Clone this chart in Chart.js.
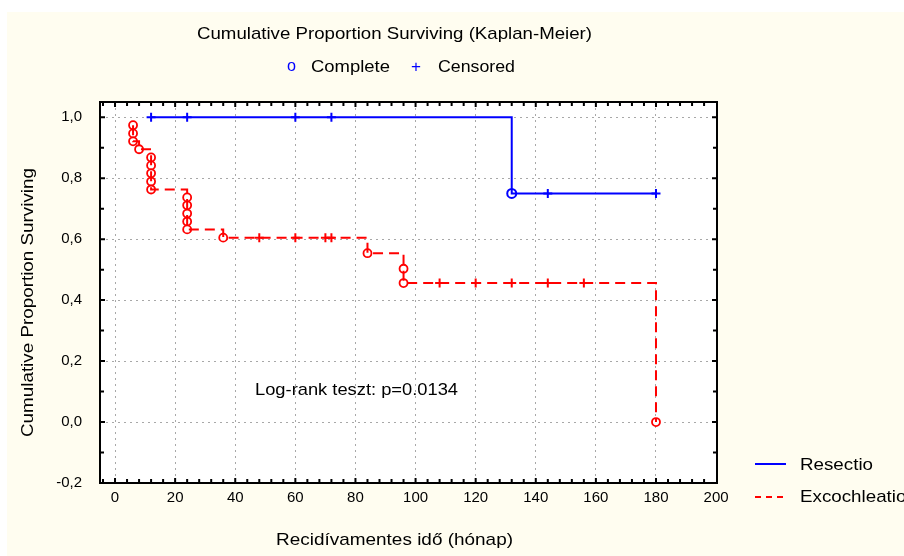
<!DOCTYPE html>
<html><head><meta charset="utf-8">
<script src="https://cdn.jsdelivr.net/npm/chart.js@4.4.1/dist/chart.umd.min.js"></script>
<style>html,body{margin:0;padding:0;background:#fff}canvas{display:block}</style>
</head><body>
<div style="width:904px;height:556px"><canvas id="c" width="904" height="556"></canvas></div>
<script>
// ---- data ----
const chartTitle = 'Cumulative Proportion Surviving (Kaplan-Meier)';
const xAxisTitle = 'Recidívamentes idő (hónap)';
const yAxisTitle = 'Cumulative Proportion Surviving';
const seriesNames = ['Resectio', 'Excochleation'];
const markerNames = ['Complete', 'Censored'];
const annotationText = 'Log-rank teszt: p=0.0134';

const resectioCompleteX = [132];
const resectioCompleteY = [0.75];
const resectioCensoredX = [12, 24, 60, 72, 144, 180];
const resectioCensoredY = [1.0, 1.0, 1.0, 1.0, 0.75, 0.75];

const excoCompleteX = [6, 6, 6, 8, 12, 12, 12, 12, 12, 24, 24, 24, 24, 24, 36, 84, 96, 96, 180];
const excoCompleteY = [0.974, 0.947, 0.921, 0.895, 0.868, 0.842, 0.816, 0.789, 0.763, 0.737, 0.711, 0.684, 0.658, 0.632, 0.605, 0.554, 0.503, 0.456, 0.0];
const excoCensoredX = [48, 60, 70, 72, 108, 120, 132, 144, 156];
const excoCensoredY = [0.605, 0.605, 0.605, 0.605, 0.456, 0.456, 0.456, 0.456, 0.456];

// ---- helpers ----
const pts = (xs, ys) => xs.map((x, i) => ({x: x, y: ys[i]}));
function kmLine(cx, cy, sx, sy) {
  const all = pts(cx, cy).concat(pts(sx, sy));
  all.sort((a, b) => a.x - b.x || b.y - a.y);
  return all;
}
const BLUE = '#0000ff', RED = '#ff0000';
const FONT = '"Liberation Sans", Arial, sans-serif';

// draw text starting at `left`, horizontally stretched to `width`
function fitText(ctx, str, left, y, width) {
  const w = ctx.measureText(str).width;
  ctx.save();
  ctx.translate(left, y);
  ctx.scale(width / w, 1);
  ctx.textAlign = 'left';
  ctx.fillText(str, 0, 0);
  ctx.restore();
}

const bgPlugin = {
  id: 'bg',
  beforeDraw(chart) {
    const ctx = chart.ctx, a = chart.chartArea;
    ctx.save();
    ctx.fillStyle = '#ffffff';
    ctx.fillRect(0, 0, chart.width, chart.height);
    ctx.fillStyle = '#fffdf0';
    ctx.fillRect(7, 12, chart.width - 7, chart.height - 12);
    ctx.fillStyle = '#ffffff';
    ctx.fillRect(a.left, a.top, a.right - a.left, a.bottom - a.top);
    ctx.restore();
  },
  afterDraw(chart) {
    const ctx = chart.ctx, a = chart.chartArea;
    const xs = chart.scales.x, ys = chart.scales.y;
    ctx.save();
    // frame
    ctx.strokeStyle = '#000';
    ctx.lineWidth = 2;
    ctx.strokeRect(a.left, a.top, a.right - a.left, a.bottom - a.top);
    // inward ticks
    ctx.beginPath();
    for (let v = Math.ceil(xs.min / 4) * 4; v <= xs.max + 1e-9; v += 4) {
      const p = xs.getPixelForValue(v);
      if (p <= a.left + 1 || p >= a.right - 1) continue;
      const len = (v % 20 === 0) ? 5 : 4;
      ctx.moveTo(p, a.bottom); ctx.lineTo(p, a.bottom - len);
      ctx.moveTo(p, a.top); ctx.lineTo(p, a.top + len);
    }
    for (let k = Math.ceil(ys.min * 10 - 1e-9); k <= Math.floor(ys.max * 10 + 1e-9); k++) {
      const p = ys.getPixelForValue(k / 10);
      if (p >= a.bottom - 1 || p <= a.top + 1) continue;
      const len = (k % 2 === 0) ? 5 : 4;
      ctx.moveTo(a.left, p); ctx.lineTo(a.left + len, p);
      ctx.moveTo(a.right, p); ctx.lineTo(a.right - len, p);
    }
    ctx.stroke();

    // texts
    ctx.fillStyle = '#000';
    ctx.textBaseline = 'middle';
    ctx.font = '17px ' + FONT;
    fitText(ctx, chartTitle, 197, 34, 395);
    // marker legend
    ctx.fillStyle = BLUE;
    fitText(ctx, 'o', 287, 66, 9);
    fitText(ctx, '+', 411, 67, 10);
    ctx.fillStyle = '#000';
    fitText(ctx, markerNames[0], 311, 67, 79);
    fitText(ctx, markerNames[1], 438, 67, 77);
    // annotation
    fitText(ctx, annotationText, 255, 390, 203);
    // axis titles
    fitText(ctx, xAxisTitle, 276, 540, 237);
    ctx.save();
    ctx.translate(28, 437);
    ctx.rotate(-Math.PI / 2);
    fitText(ctx, yAxisTitle, 0, 0, 269);
    ctx.restore();
    // series legend
    ctx.lineWidth = 2;
    ctx.strokeStyle = BLUE;
    ctx.beginPath(); ctx.moveTo(755, 464); ctx.lineTo(786, 464); ctx.stroke();
    ctx.strokeStyle = RED;
    ctx.setLineDash([6, 5]);
    ctx.beginPath(); ctx.moveTo(755, 497); ctx.lineTo(786, 497); ctx.stroke();
    ctx.setLineDash([]);
    ctx.fillStyle = '#000';
    const sFactor = 73 / ctx.measureText(seriesNames[0]).width;
    fitText(ctx, seriesNames[0], 800, 465, 73);
    fitText(ctx, seriesNames[1], 800, 497, ctx.measureText(seriesNames[1]).width * sFactor);
    ctx.restore();
  }
};

const gridCommon = {color: '#a8a8a8', lineWidth: 1, drawTicks: false};

new Chart(document.getElementById('c'), {
  type: 'scatter',
  data: {
    datasets: [
      {label: seriesNames[0], data: kmLine(resectioCompleteX, resectioCompleteY, resectioCensoredX, resectioCensoredY),
       showLine: true, stepped: true, borderColor: BLUE, borderWidth: 2, pointRadius: 0, fill: false},
      {label: seriesNames[1], data: kmLine(excoCompleteX, excoCompleteY, excoCensoredX, excoCensoredY),
       showLine: true, stepped: true, borderColor: RED, borderWidth: 2, borderDash: [10, 6], pointRadius: 0, fill: false},
      {label: 'rc', data: pts(resectioCensoredX, resectioCensoredY), showLine: false,
       pointStyle: 'cross', pointRadius: 4.5, borderColor: BLUE, borderWidth: 2},
      {label: 'ec', data: pts(excoCensoredX, excoCensoredY), showLine: false,
       pointStyle: 'cross', pointRadius: 4.5, borderColor: RED, borderWidth: 2},
      {label: 'rd', data: pts(resectioCompleteX, resectioCompleteY), showLine: false,
       pointStyle: 'circle', pointRadius: 4.5, borderColor: BLUE, backgroundColor: '#fff', borderWidth: 2},
      {label: 'ed', data: pts(excoCompleteX, excoCompleteY), showLine: false,
       pointStyle: 'circle', pointRadius: 4, borderColor: RED, backgroundColor: '#fff', borderWidth: 1.8}
    ]
  },
  options: {
    responsive: false,
    animation: false,
    devicePixelRatio: 1,
    layout: {padding: {left: 0, right: 187, top: 102, bottom: 0}},
    plugins: {legend: {display: false}, tooltip: {enabled: false}},
    scales: {
      x: {
        type: 'linear', min: -5, max: 200.3,
        ticks: {stepSize: 20, includeBounds: false, color: '#000', font: {family: FONT, size: 15}, padding: 6, maxRotation: 0},
        grid: gridCommon,
        border: {display: false, dash: [2, 4]},
        afterFit(s) { s.height = 73; }
      },
      y: {
        type: 'linear', min: -0.2, max: 1.05,
        ticks: {stepSize: 0.2, includeBounds: false, color: '#000', font: {family: FONT, size: 15}, padding: 18,
          callback: v => (Math.abs(v) < 1e-9 ? 0 : v).toFixed(1).replace('.', ',')},
        grid: gridCommon,
        border: {display: false, dash: [2, 4]},
        afterFit(s) { s.width = 100; }
      }
    }
  },
  plugins: [bgPlugin]
});
</script>
</body></html>
